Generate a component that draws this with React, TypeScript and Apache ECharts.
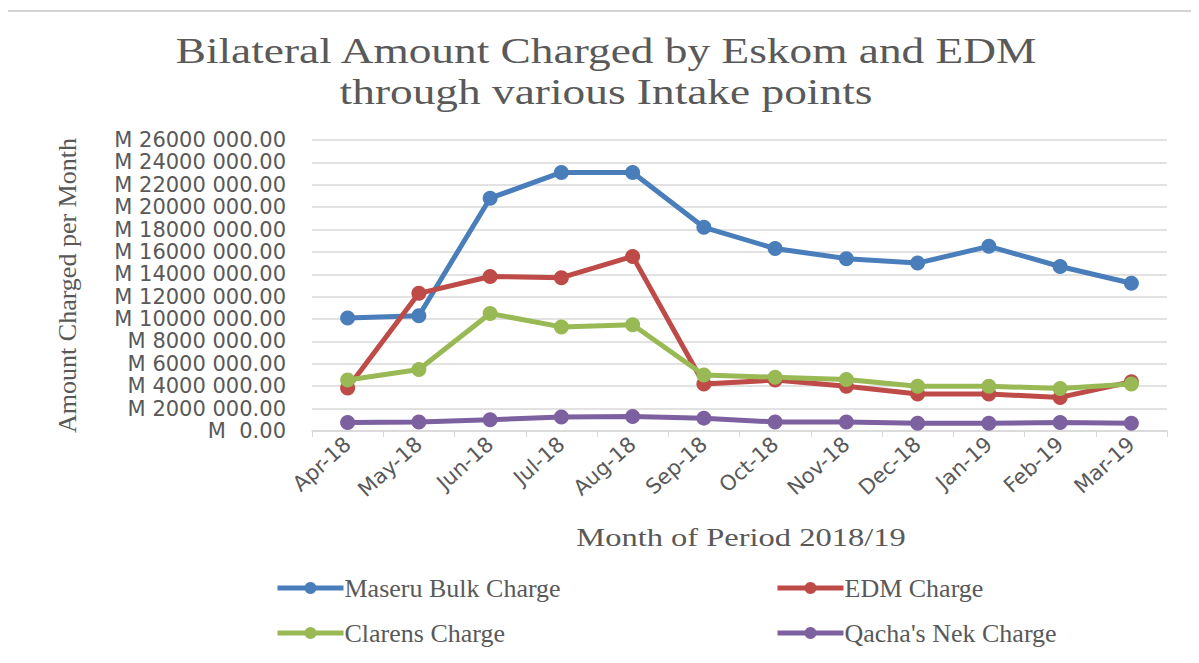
import React, { useEffect, useRef } from "react";
import * as echarts from "echarts";

const months = ["Apr-18", "May-18", "Jun-18", "Jul-18", "Aug-18", "Sep-18", "Oct-18", "Nov-18", "Dec-18", "Jan-19", "Feb-19", "Mar-19"];
const maseru = [10100000, 10300000, 20800000, 23100000, 23100000, 18200000, 16300000, 15400000, 15000000, 16500000, 14700000, 13200000];
const edm = [3850000, 12300000, 13800000, 13700000, 15600000, 4200000, 4550000, 4000000, 3300000, 3300000, 3000000, 4400000];
const clarens = [4550000, 5500000, 10500000, 9300000, 9500000, 5000000, 4800000, 4600000, 4000000, 4000000, 3800000, 4200000];
const qacha = [750000, 800000, 1000000, 1250000, 1300000, 1150000, 800000, 800000, 700000, 700000, 750000, 700000];

const seriesNames = ["Maseru Bulk Charge", "EDM Charge", "Clarens Charge", "Qacha's Nek Charge"];
const titleLines = ["Bilateral Amount Charged by Eskom and EDM", "through various Intake points"];
const xAxisTitle = "Month of Period 2018/19";
const yAxisTitle = "Amount Charged per Month";
const colors = ["#4A7EBB", "#BE4B48", "#98B954", "#7D60A0"];

const serif = "'Liberation Serif', 'DejaVu Serif', serif";
const sans = "'DejaVu Sans', 'Open Sans', sans-serif";

function fmt(v: number): string {
  if (v === 0) return "M  0.00";
  const th = Math.floor(v / 1000);
  const rest = String(v % 1000).padStart(3, "0");
  return `M ${th} ${rest}.00`;
}

export default function App() {
  const ref = useRef<HTMLDivElement>(null);
  useEffect(() => {
    if (!ref.current) return;
    const chart = echarts.init(ref.current, null, { renderer: "svg" });
    const data = [maseru, edm, clarens, qacha];
    const legendPos = [
      { left: 270, top: 570 },
      { left: 770, top: 570 },
      { left: 270, top: 615 },
      { left: 770, top: 615 },
    ];
    chart.setOption({
      animation: false,
      backgroundColor: "#ffffff",
      color: colors,
      graphic: [
        {
          type: "line",
          shape: { x1: 7, y1: 11, x2: 1199, y2: 11 },
          style: { stroke: "#d4d4d4", lineWidth: 2 },
          silent: true,
        },
        {
          type: "line",
          shape: { x1: 7, y1: 11, x2: 7, y2: 663 },
          style: { stroke: "#d4d4d4", lineWidth: 2 },
          silent: true,
        },
        {
          type: "text",
          x: 606,
          y: 51,
          scaleX: 1.26,
          style: {
            text: titleLines[0],
            font: `36px ${serif}`,
            fill: "#595959",
            align: "center",
            verticalAlign: "middle",
          },
        },
        {
          type: "text",
          x: 606,
          y: 92,
          scaleX: 1.26,
          style: {
            text: titleLines[1],
            font: `36px ${serif}`,
            fill: "#595959",
            align: "center",
            verticalAlign: "middle",
          },
        },
        {
          type: "text",
          x: 741,
          y: 537,
          scaleX: 1.25,
          style: {
            text: xAxisTitle,
            font: `26px ${serif}`,
            fill: "#595959",
            align: "center",
            verticalAlign: "middle",
          },
        },
      ],
      legend: seriesNames.map((n, i) => ({
        data: [n],
        left: legendPos[i].left,
        top: legendPos[i].top,
        itemWidth: 66,
        itemHeight: 15,
        itemGap: 0,
        lineStyle: { width: 5 },
        textStyle: { fontFamily: serif, fontSize: 26, color: "#595959", padding: [0, 0, 0, -4] },
      })),
      grid: { left: 312, right: 32, top: 140, bottom: 232, containLabel: false },
      xAxis: {
        type: "category",
        data: months,
        boundaryGap: true,
        axisLine: { lineStyle: { color: "#d9d9d9", width: 1.5 } },
        axisTick: { show: true, alignWithLabel: false, length: 6, lineStyle: { color: "#d9d9d9" } },
        axisLabel: {
          rotate: 42,
          fontFamily: sans,
          fontSize: 21,
          color: "#595959",
          margin: 10,
        },
      },
      yAxis: {
        type: "value",
        min: 0,
        max: 26000000,
        interval: 2000000,
        name: yAxisTitle,
        nameLocation: "middle",
        nameGap: 232,
        nameRotate: 90,
        nameTextStyle: { fontFamily: serif, fontSize: 26, color: "#595959" },
        axisLine: { show: false },
        axisTick: { show: false },
        splitLine: { lineStyle: { color: "#d9d9d9", width: 1.5 } },
        axisLabel: {
          formatter: (v: number) => fmt(v),
          fontFamily: sans,
          fontSize: 21,
          lineHeight: 20,
          color: "#595959",
          margin: 26,
        },
      },
      series: seriesNames.map((n, i) => ({
        name: n,
        type: "line",
        data: data[i],
        symbol: "circle",
        symbolSize: 15,
        lineStyle: { width: 5, color: colors[i] },
        itemStyle: { color: colors[i] },
      })),
    });
    return () => chart.dispose();
  }, []);
  return <div ref={ref} style={{ width: 1199, height: 663, margin: -8 }} />;
}
